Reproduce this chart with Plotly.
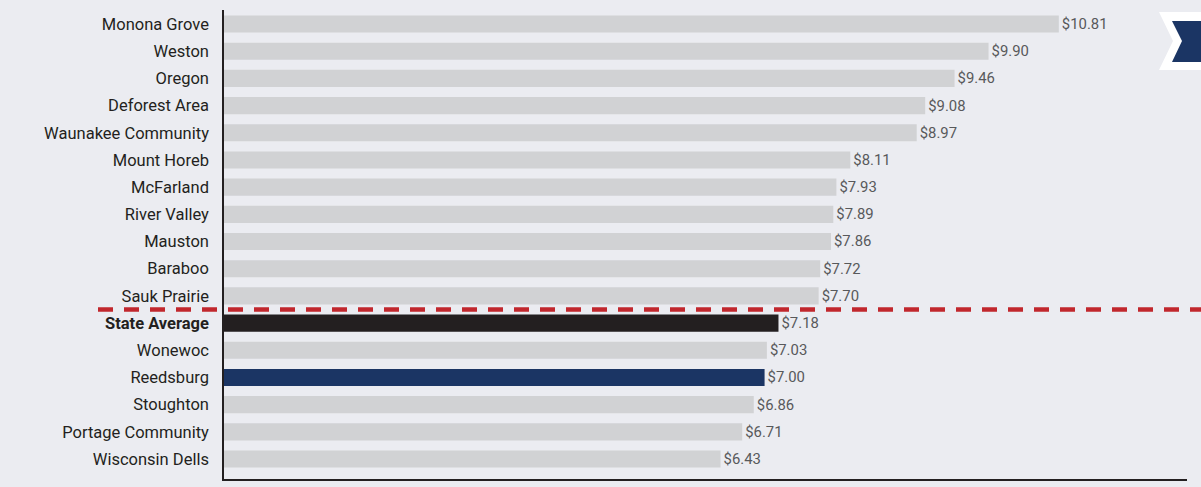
import plotly.graph_objects as go

districts = ["Monona Grove", "Weston", "Oregon", "Deforest Area", "Waunakee Community",
             "Mount Horeb", "McFarland", "River Valley", "Mauston", "Baraboo", "Sauk Prairie",
             "State Average", "Wonewoc", "Reedsburg", "Stoughton", "Portage Community",
             "Wisconsin Dells"]
values = [10.81, 9.90, 9.46, 9.08, 8.97, 8.11, 7.93, 7.89, 7.86, 7.72, 7.70,
          7.18, 7.03, 7.00, 6.86, 6.71, 6.43]

GRAY = "#D1D2D4"
BLACK = "#231F20"
NAVY = "#1B3564"
BG = "#EBECF1"

colors = [BLACK if d == "State Average" else NAVY if d == "Reedsburg" else GRAY for d in districts]
ticktext = ["<b>%s</b>" % d if d == "State Average" else d for d in districts]
idx = list(range(len(districts)))

W, H = 1201, 487
L, R, T, B = 224, 14, 10, 8
pw, ph = W - L - R, H - T - B

def px(x):
    return (x - L) / pw

def py(y):
    return (H - B - y) / ph

fig = go.Figure(go.Bar(
    x=values, y=idx, orientation="h",
    marker=dict(color=colors, line=dict(width=0)),
    width=0.63,
    text=["$%.2f" % v for v in values],
    textposition="outside",
    textfont=dict(color="#58595B", size=16.5, family="Roboto"),
    cliponaxis=False,
    hoverinfo="skip",
))

shapes = [
    dict(type="line", xref="paper", yref="y", x0=px(98), x1=px(1201), y0=10.5, y1=10.5,
         line=dict(color="#C1272D", width=4.5, dash="15px,11px")),
    # chevron icon
    dict(type="path", xref="paper", yref="paper",
         path="M %f,%f L %f,%f L %f,%f L %f,%f L %f,%f L %f,%f Z" % (
             px(1159), py(12), px(1205), py(12), px(1205), py(70),
             px(1159), py(70), px(1173), py(41), px(1159), py(12)),
         fillcolor="white", line=dict(width=0)),
    dict(type="path", xref="paper", yref="paper",
         path="M %f,%f L %f,%f L %f,%f L %f,%f L %f,%f Z" % (
             px(1172), py(21), px(1205), py(21), px(1205), py(62),
             px(1172), py(62), px(1182), py(41)),
         fillcolor=NAVY, line=dict(width=0)),
]

fig.update_layout(
    width=W, height=H,
    margin=dict(l=L, r=R, t=T, b=B, pad=0),
    paper_bgcolor=BG, plot_bgcolor=BG,
    showlegend=False,
    shapes=shapes,
    font=dict(family="Roboto", color=BLACK, size=16.5),
    bargap=0.37,
)
fig.update_xaxes(range=[0, 12.47], showgrid=False, zeroline=False, showticklabels=False,
                 showline=True, linecolor=BLACK, linewidth=1.5, ticks="")
fig.update_yaxes(range=[16.735, -0.515], tickmode="array", tickvals=idx, ticktext=ticktext,
                 showgrid=False, zeroline=False, showline=True, linecolor=BLACK, linewidth=1.5,
                 ticks="outside", ticklen=10, tickcolor=BG,
                 tickfont=dict(family="Roboto", size=16.5, color=BLACK))

fig.write_html("out.html", config={"displayModeBar": False})

with open("out.html", encoding="utf-8") as f:
    html = f.read()
html = html.replace("<head>", "<head><style>html,body{margin:0;padding:0;background:%s;}</style>" % BG, 1)
with open("out.html", "w", encoding="utf-8") as f:
    f.write(html)
